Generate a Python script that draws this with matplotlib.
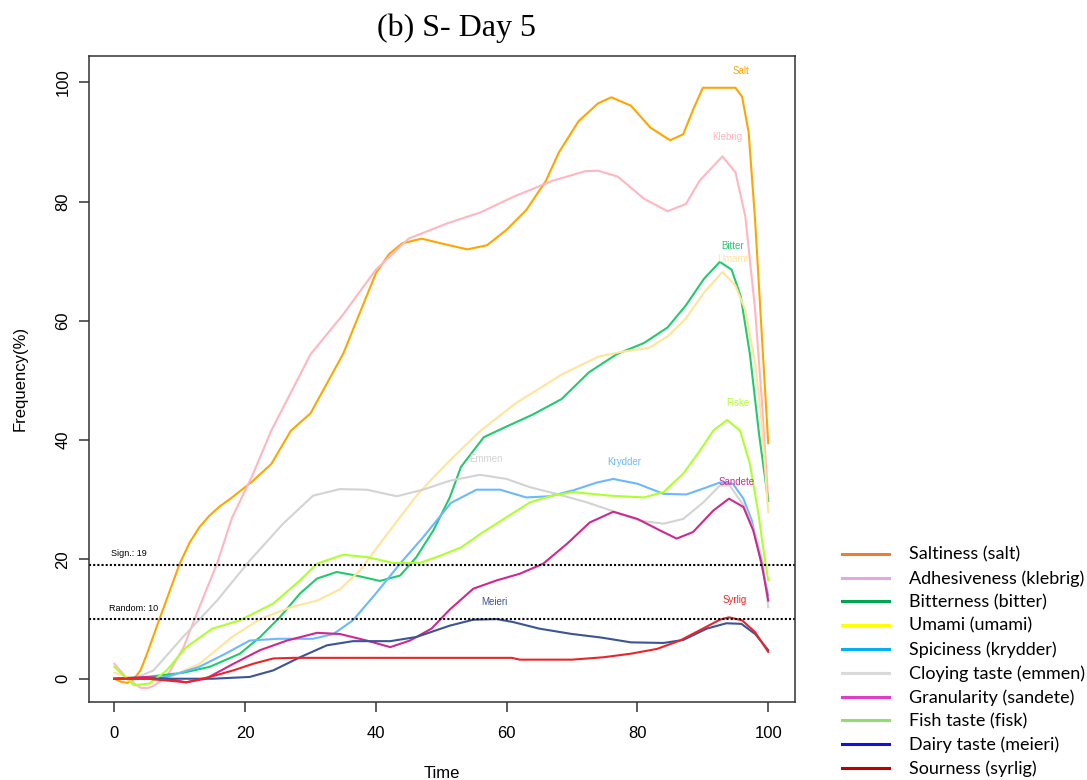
import matplotlib.pyplot as plt
from matplotlib.lines import Line2D

# sensory attributes, Day 5 (S)
salt_x = [0, 1, 2, 3, 4, 5, 7, 10, 11.5, 13, 14.5, 16, 18, 21, 24, 27, 30, 35, 40, 42, 44, 47, 50, 54, 57, 60, 63, 66, 68, 71, 74, 76, 79, 82, 85, 87, 88.5, 90, 95, 96, 97, 98, 99, 100]
salt_y = [0, -0.5, -0.7, 0, 1.4, 4.2, 10.3, 19.3, 22.8, 25.4, 27.3, 28.8, 30.4, 33, 36, 41.6, 44.5, 54.5, 68, 71.2, 73, 73.8, 73, 72, 72.7, 75.3, 78.6, 83.5, 88.3, 93.5, 96.5, 97.5, 96.1, 92.4, 90.3, 91.3, 95.4, 99.1, 99.1, 97.6, 91.7, 76.8, 58, 39.5]

kleb_x = [0, 2, 4, 5, 6, 8, 10.6, 13, 15.7, 18, 21, 24, 27, 30, 35, 40, 45, 51, 56, 61, 67, 72, 74, 77, 81, 84.6, 87.4, 89.5, 93, 95, 96.5, 98, 99, 100]
kleb_y = [2.5, 0, -1.5, -1.6, -1.2, 0.3, 5.3, 12, 19.3, 27, 33.8, 41.6, 48, 54.4, 61.1, 68.6, 73.8, 76.4, 78.2, 80.8, 83.5, 85.1, 85.2, 84.2, 80.5, 78.4, 79.6, 83.5, 87.6, 84.9, 77.5, 61.8, 47, 30]

bitter_x = [0, 5, 10.5, 14.6, 19.2, 22.3, 25.3, 28.4, 31, 34, 37, 40.6, 43.7, 46.2, 48.8, 51.3, 53, 56.5, 60, 64, 68.4, 72.6, 76.8, 81, 84.6, 87.4, 90.2, 92.6, 94.4, 95.8, 97.2, 98.6, 100]
bitter_y = [0, 0.3, 1, 2, 4.2, 7, 10.3, 14.3, 16.8, 17.9, 17.3, 16.4, 17.3, 20.4, 24.9, 30.4, 35.5, 40.5, 42.3, 44.3, 46.9, 51.4, 54.4, 56.3, 58.9, 62.6, 67.1, 69.9, 68.6, 64.1, 54.4, 41, 29.8]

umami_x = [0, 3, 8, 13, 18, 22.3, 27, 31, 34.5, 37.6, 41, 46, 48.3, 51.3, 56, 61.4, 68.4, 74, 77.5, 81.8, 84.6, 87.4, 90.2, 93, 95, 96.5, 98, 99, 100]
umami_y = [1, 0, 0, 2.5, 7, 10, 12, 13.1, 15, 18.2, 23.2, 30.4, 33.2, 36.6, 41.6, 46.2, 51, 54, 54.8, 55.5, 57.4, 60.4, 64.8, 68.2, 65.9, 61.8, 52.9, 43.2, 27.9]

kryd_x = [0, 4, 8, 13, 17, 20.7, 25, 30.4, 33.5, 36.5, 40, 43.7, 47.2, 51.5, 55.4, 59, 63, 66.6, 70.2, 73.8, 76.3, 80, 84, 87.5, 90.6, 92.6, 94.6, 96.2, 97.5, 99, 100]
kryd_y = [0, 0, 0.3, 2, 4.2, 6.4, 6.7, 6.7, 7.5, 9.8, 14.3, 19.3, 23.7, 29.5, 31.7, 31.7, 30.4, 30.6, 31.6, 32.9, 33.5, 32.7, 31, 30.9, 32.1, 32.9, 32.7, 30.2, 26.5, 19, 14]

emmen_x = [0, 3, 6, 10.5, 15.7, 20.7, 25.8, 30.4, 34.5, 38.6, 43.2, 47.2, 51.3, 55.9, 60, 63.6, 67.6, 72.2, 76.8, 80.4, 84, 87, 90.1, 92.6, 94.1, 96.4, 98.2, 99.2, 100]
emmen_y = [0, 0, 1.4, 7, 13.1, 19.8, 26, 30.7, 31.8, 31.7, 30.6, 31.7, 33.2, 34.2, 33.5, 32.1, 31, 29.6, 27.9, 26.5, 26, 26.8, 29.6, 32.4, 32.4, 28.8, 23.7, 19.3, 12]

sand_x = [0, 5, 8, 11, 14, 18.2, 22.3, 26.4, 31, 34.5, 38.6, 42.2, 45.2, 48.5, 51.3, 54.9, 58.5, 62, 65.6, 69.2, 72.7, 76.3, 80, 83.4, 86, 88.5, 91.6, 94, 96.2, 97.7, 99, 100]
sand_y = [0, 0.3, 0, -0.6, 0, 2.5, 4.8, 6.4, 7.7, 7.5, 6.4, 5.3, 6.4, 8.4, 11.6, 15.1, 16.5, 17.6, 19.3, 22.6, 26.2, 28, 26.8, 24.9, 23.5, 24.6, 28.2, 30.2, 28.8, 24.9, 19.3, 13.1]

fisk_x = [0, 3, 5.4, 8, 11, 15, 19.2, 24.3, 28.4, 31, 35, 38.6, 42.7, 46.7, 50, 53, 56, 60, 63.6, 67, 70.2, 75.8, 81, 84, 87, 89.6, 91.6, 93.7, 95.7, 97.2, 98.5, 99.2, 100]
fisk_y = [2, -1.1, -0.8, 1.4, 5.3, 8.4, 9.8, 12.6, 16.5, 19.3, 20.8, 20.4, 19.4, 19.4, 20.7, 22, 24.3, 27.1, 29.6, 30.7, 31.3, 30.7, 30.4, 31.3, 34.4, 38.3, 41.6, 43.4, 41.6, 36, 27.7, 22.1, 16.5]

meieri_x = [0, 5, 10, 15, 20.7, 24.3, 28.4, 32.5, 36.5, 42.2, 46.2, 51.3, 54.9, 58.5, 61, 65, 70, 74.5, 79, 84, 87, 90.6, 93.6, 95.9, 98, 100]
meieri_y = [0, 0, 0, 0, 0.3, 1.4, 3.6, 5.6, 6.3, 6.3, 7, 8.9, 9.9, 10, 9.5, 8.4, 7.5, 6.9, 6.1, 6, 6.5, 8.4, 9.3, 9.2, 7.5, 4.8]

syrlig_x = [0, 5, 8, 11, 14.6, 18.2, 21.2, 24.3, 27.3, 40, 50, 60.8, 62, 70, 74.8, 79, 83, 86.5, 90, 92.6, 94, 96, 98, 100]
syrlig_y = [0, 0, -0.3, -0.6, 0.3, 1.4, 2.5, 3.4, 3.5, 3.5, 3.5, 3.5, 3.2, 3.2, 3.6, 4.2, 5, 6.4, 8.4, 9.9, 10.3, 9.8, 7.8, 4.5]

short_names = ['Salt', 'Klebrig', 'Bitter', 'Umami', 'Krydder', 'Emmen', 'Sandete', 'Fiske', 'Meieri', 'Syrlig']
# where the short names sit (x, y)
name_x = [95.8, 93.8, 94.6, 94.6, 78, 56.9, 95.1, 95.3, 58.1, 94.9]
name_y = [101.9, 90.9, 72.6, 70.4, 36.4, 36.9, 33, 46.3, 12.8, 13.2]

legend_labels = ['Saltiness (salt)', 'Adhesiveness (klebrig)', 'Bitterness (bitter)', 'Umami (umami)',
                 'Spiciness (krydder)', 'Cloying taste (emmen)', 'Granularity (sandete)', 'Fish taste (fisk)',
                 'Dairy taste (meieri)', 'Sourness (syrlig)']

sign_level = 19
random_level = 10

xs = [salt_x, kleb_x, bitter_x, umami_x, kryd_x, emmen_x, sand_x, fisk_x, meieri_x, syrlig_x]
ys = [salt_y, kleb_y, bitter_y, umami_y, kryd_y, emmen_y, sand_y, fisk_y, meieri_y, syrlig_y]
line_colors = ['#FFA500', '#FFB6C1', '#1FCB6C', '#FFE49A', '#6CB8FF', '#D3D3D3', '#CD2990', '#ADFF2F', '#3B5498', '#E8262A']
legend_colors = ['#ED7D31', '#E6A6DF', '#00A651', '#FFFF00', '#00B0F0', '#D9D9D9', '#E03CC4', '#8EE06A', '#1010E0', '#C00000']

fig = plt.figure(figsize=(10.87, 7.8), dpi=100)
ax = fig.add_axes([0.0822, 0.1004, 0.6492, 0.8276])

for i in range(len(xs)):
    ax.plot(xs[i], ys[i], color=line_colors[i], lw=1.5)
    ax.text(name_x[i], name_y[i], short_names[i], color=line_colors[i], fontsize=7,
            ha='center', va='center', family='Liberation Sans')

ax.axhline(sign_level, color='black', lw=1.5, linestyle=(0, (1, 1)))
ax.axhline(random_level, color='black', lw=1.5, linestyle=(0, (1, 1)))
ax.text(2.3, sign_level + 2, 'Sign.: %d' % sign_level, fontsize=6.5, ha='center', va='center', family='Liberation Sans')
ax.text(3.0, random_level + 1.7, 'Random: %d' % random_level, fontsize=6.5, ha='center', va='center', family='Liberation Sans')

ax.set_xlim(-3.82, 104.1)
ax.set_ylim(-3.85, 104.4)
ax.set_xticks([0, 20, 40, 60, 80, 100])
ax.set_yticks([0, 20, 40, 60, 80, 100])
for s in ax.spines.values():
    s.set_color('#333333')
    s.set_linewidth(1.1)
ax.tick_params(direction='out', length=7.5, width=1.1, color='#333333', labelsize=12, pad=10)
ax.tick_params(axis='y', pad=6)
for lab in ax.get_xticklabels() + ax.get_yticklabels():
    lab.set_family('Liberation Sans')
for lab in ax.get_yticklabels():
    lab.set_rotation(90)
    lab.set_va('center')
ax.set_xlabel('Time', fontsize=12, family='Liberation Sans', labelpad=18)
ax.set_ylabel('Frequency(%)', fontsize=12, family='Liberation Sans', labelpad=20)

fig.text(0.42, 0.964, '(b) S- Day 5', family='Liberation Serif', fontsize=23, ha='center', va='center')

handles = [Line2D([], [], color=c, lw=2.2) for c in legend_colors]
fig.legend(handles, legend_labels, loc='upper left', bbox_to_anchor=(0.775, 0.299), frameon=False,
           prop={'family': 'Lato', 'size': 13}, handlelength=2.6, handletextpad=1.1,
           labelspacing=0.41, borderpad=0, borderaxespad=0)

fig.savefig('out.png', dpi=100)
